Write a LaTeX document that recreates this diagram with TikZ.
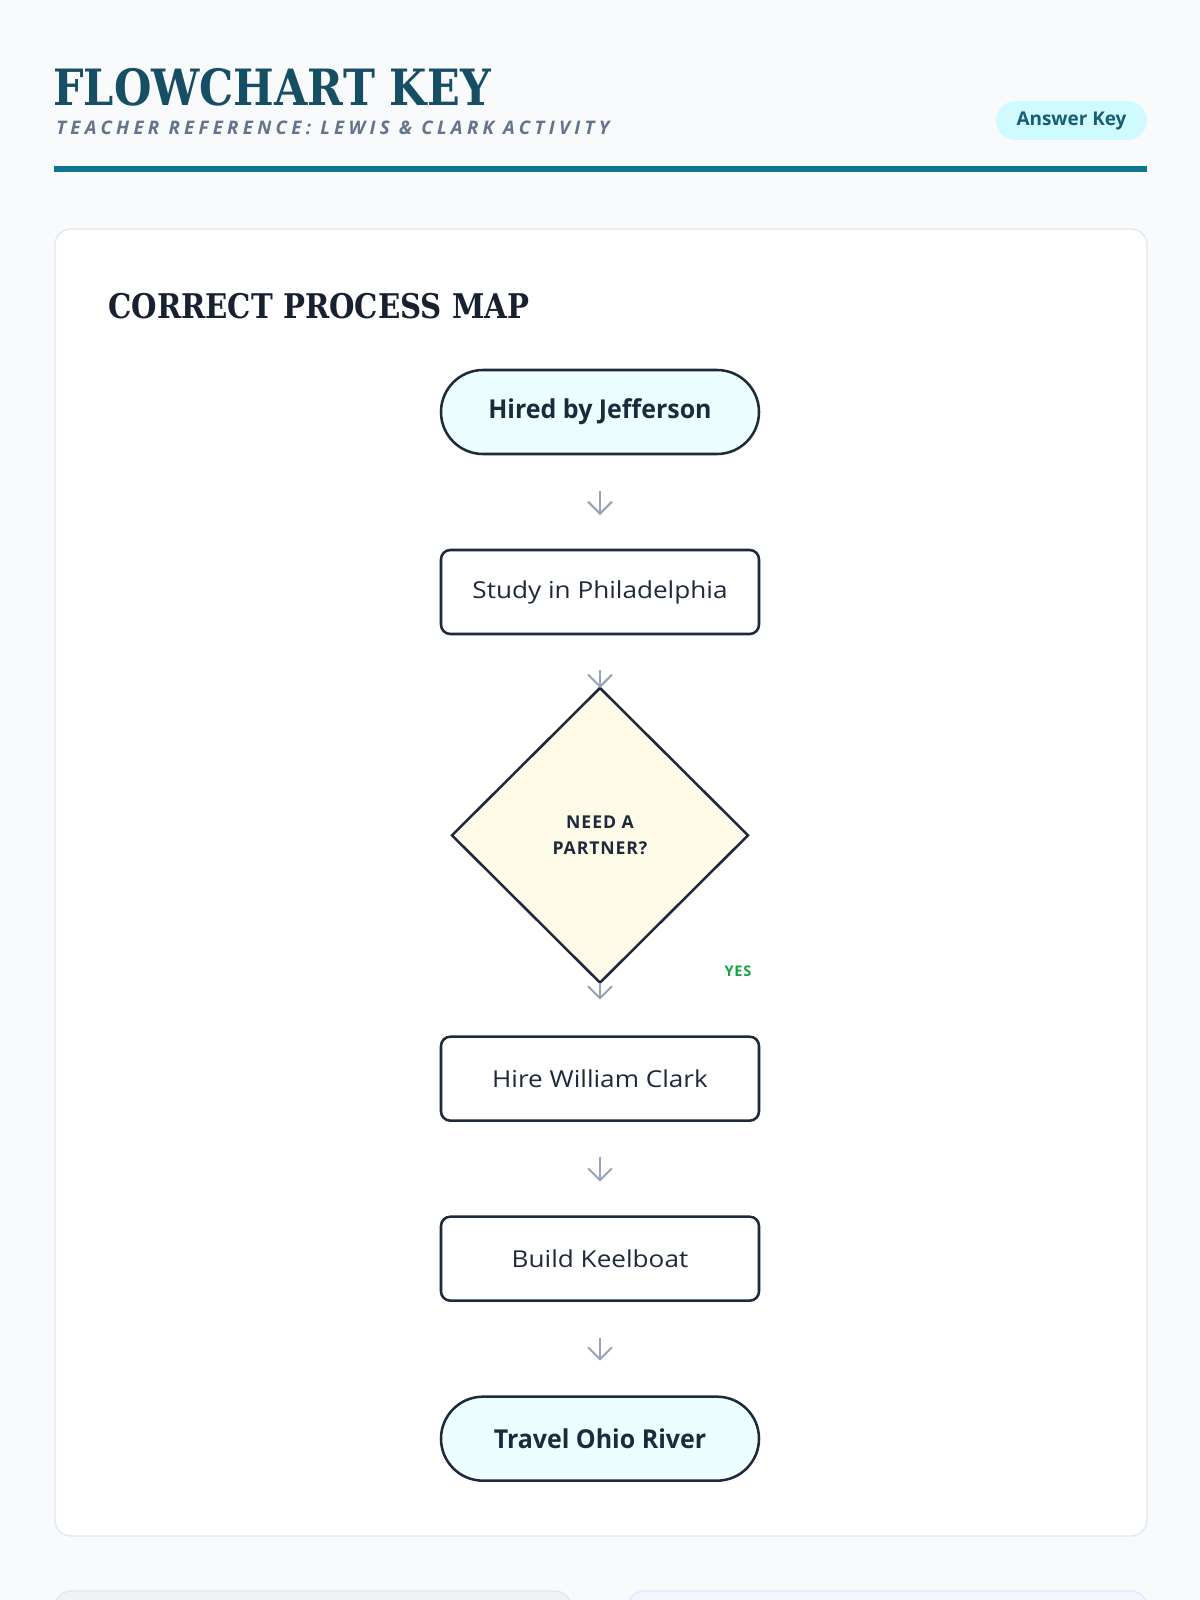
\documentclass[tikz,border=0pt]{standalone}
\usepackage{fontspec}
\usepackage{xcolor}
\usepackage{tikz}
\usetikzlibrary{shapes.geometric,arrows.meta,positioning}

\setmainfont{Open Sans}
\newfontfamily\slabfont[FakeStretch=0.86]{DejaVu Serif}
\newfontfamily\spacedfont[LetterSpace=23]{Open Sans}
\newfontfamily\capsfont[LetterSpace=5]{Open Sans}
\newfontfamily\plainfont[FakeStretch=1.12]{Open Sans}
\newfontfamily\heavyfont[FakeStretch=0.96]{Open Sans}

\definecolor{pagebg}{HTML}{F8FAFC}
\definecolor{cardline}{HTML}{E2E8F0}
\definecolor{headteal}{HTML}{164E63}
\definecolor{ruleteal}{HTML}{0E7490}
\definecolor{subgray}{HTML}{64748B}
\definecolor{badgefill}{HTML}{CFFAFE}
\definecolor{badgetext}{HTML}{155E75}
\definecolor{inkdark}{HTML}{1E293B}
\definecolor{termfill}{HTML}{ECFEFF}
\definecolor{decfill}{HTML}{FEFCE8}
\definecolor{arrowgray}{HTML}{94A3B8}
\definecolor{yesgreen}{HTML}{16A34A}

\begin{document}
\begin{tikzpicture}[x=0.75pt, y=-0.75pt, node distance=72pt,
    box/.style={rectangle, draw=inkdark, line width=1.9pt, text=inkdark,
        outer sep=0pt, minimum width=238.5pt, minimum height=63pt,
        font=\plainfont\fontsize{17.5}{22}\selectfont},
    terminal/.style={box, rounded corners=31.5pt, fill=termfill,
        font=\heavyfont\bfseries\fontsize{19.5}{24}\selectfont},
    process/.style={box, rounded corners=7pt, fill=white},
    decision/.style={diamond, draw=inkdark, line width=1.9pt, fill=decfill,
        outer sep=0pt, minimum width=222pt, minimum height=221pt, inner sep=0pt,
        align=center, text=inkdark,
        font=\capsfont\bfseries\fontsize{13.25}{20}\selectfont},
    flow/.style={draw=arrowgray, line width=1.5pt,
        -{Straight Barb[length=9pt, width=18pt]}}]

    % page and frame
    \fill[pagebg] (0,0) rectangle (1200,1600);
    \useasboundingbox (0,0) rectangle (1200,1600);

    \node (title) [anchor=base west, inner sep=0pt, text=headteal,
        font=\slabfont\bfseries\fontsize{37.5}{45}\selectfont] at (53,105) {FLOWCHART KEY};
    \node (subtitle) [anchor=base west, inner sep=0pt, text=subgray,
        font=\spacedfont\bfseries\itshape\fontsize{14}{17}\selectfont] at (56,134) {TEACHER REFERENCE: LEWIS \& CLARK ACTIVITY};
    \node (badge) [rectangle, rounded corners=14.5pt, fill=badgefill, text=badgetext,
        minimum width=113pt, minimum height=29pt, inner sep=0pt,
        font=\bfseries\fontsize{14.2}{17}\selectfont] at (1071.5,120.5) {Answer Key};
    \draw[ruleteal, line width=4.5pt] (54,169) -- (1147,169);

    \draw[fill=white, draw=cardline, line width=1pt, rounded corners=12pt] (55,229) rectangle (1147,1536);
    \draw[fill=pagebg!60!cardline, draw=cardline, line width=1pt, rounded corners=12pt] (55,1591) rectangle (571,1660);
    \draw[fill=blue!4, draw=blue!10, line width=1pt, rounded corners=12pt] (628,1591) rectangle (1147,1660);

    \node (maptitle) [anchor=west, inner sep=0pt, text=inkdark!80!black,
        font=\slabfont\bfseries\fontsize{25.5}{30}\selectfont] at (108,306) {CORRECT PROCESS MAP};

    % the process map
    \node (hired) [terminal] at (600,412) {Hired by Jefferson};
    \node (study) [process, below=of hired] {Study in Philadelphia};
    \node (partner) [decision, below=40.5pt of study] {NEED A\\PARTNER?};
    \node (clark) [process, below=40.5pt of partner] {Hire William Clark};
    \node (keelboat) [process, below=of clark] {Build Keelboat};
    \node (ohio) [terminal, below=of keelboat] {Travel Ohio River};
    \node (yes) [text=yesgreen, inner sep=0pt,
        font=\capsfont\bfseries\fontsize{11}{14}\selectfont] at (738,971) {YES};

    \draw [flow, shorten <=27.75pt, shorten >=26.25pt] (hired) -- (study);
    \draw [flow, shorten <=27pt] (study) -- (partner);
    \draw [flow, shorten >=27.75pt] (partner) -- (clark);
    \draw [flow, shorten <=27pt, shorten >=26.25pt] (clark) -- (keelboat);
    \draw [flow, shorten <=27.75pt, shorten >=27pt] (keelboat) -- (ohio);
\end{tikzpicture}
\end{document}
